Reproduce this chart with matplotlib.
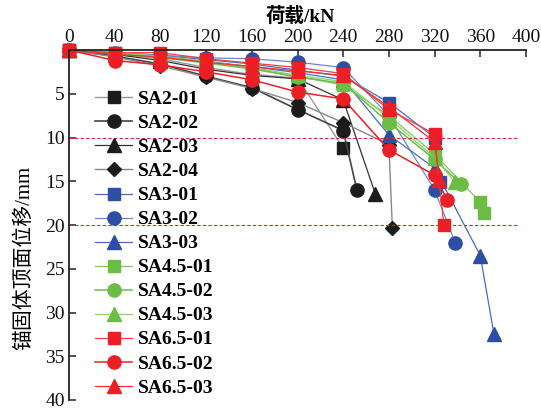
import matplotlib
matplotlib.use("Agg")
import matplotlib.pyplot as plt

# ---- data (load kN, displacement mm) ----
names = ["SA2-01", "SA2-02", "SA2-03", "SA2-04",
         "SA3-01", "SA3-02", "SA3-03",
         "SA4.5-01", "SA4.5-02", "SA4.5-03",
         "SA6.5-01", "SA6.5-02", "SA6.5-03"]

sa2_01_x = [0, 40, 80, 120, 160, 200, 240]
sa2_01_y = [0, 0.4, 1.0, 2.0, 2.8, 3.2, 11.2]
sa2_02_x = [0, 40, 80, 120, 160, 200, 240, 252]
sa2_02_y = [0, 0.7, 1.6, 3.0, 4.3, 6.8, 9.2, 16.0]
sa2_03_x = [0, 40, 80, 120, 160, 200, 240, 268]
sa2_03_y = [0, 0.5, 1.2, 2.2, 2.9, 3.3, 5.7, 16.4]
sa2_04_x = [0, 40, 80, 120, 160, 200, 240, 280, 283]
sa2_04_y = [0, 0.8, 1.8, 3.1, 4.4, 6.0, 8.3, 10.8, 20.3]

sa3_01_x = [0, 40, 80, 120, 160, 200, 240, 280, 320, 325]
sa3_01_y = [0, 0.3, 0.6, 1.1, 1.6, 2.3, 3.0, 6.0, 10.0, 15.1]
sa3_02_x = [0, 40, 80, 120, 160, 200, 240, 280, 320, 338]
sa3_02_y = [0, 0.3, 0.6, 0.9, 1.0, 1.4, 2.0, 7.5, 16.0, 22.0]
sa3_03_x = [0, 40, 80, 120, 160, 200, 240, 280, 320, 360, 372]
sa3_03_y = [0, 0.4, 0.8, 1.3, 1.9, 2.6, 3.4, 9.7, 13.5, 23.5, 32.5]

sa45_01_x = [0, 40, 80, 120, 160, 200, 240, 280, 320, 360, 363]
sa45_01_y = [0, 0.4, 0.9, 1.5, 2.2, 3.0, 4.0, 7.5, 11.9, 17.4, 18.6]
sa45_02_x = [0, 40, 80, 120, 160, 200, 240, 280, 320, 343]
sa45_02_y = [0, 0.4, 0.8, 1.4, 2.1, 3.1, 3.8, 8.3, 12.5, 15.3]
sa45_03_x = [0, 40, 80, 120, 160, 200, 240, 280, 320, 338]
sa45_03_y = [0, 0.3, 0.7, 1.3, 2.0, 2.9, 3.6, 7.8, 12.3, 15.1]

sa65_01_x = [0, 40, 80, 120, 160, 200, 240, 280, 320, 328]
sa65_01_y = [0, 0.3, 0.3, 1.0, 1.5, 2.0, 2.7, 6.8, 9.6, 20.0]
sa65_02_x = [0, 40, 80, 120, 160, 200, 240, 280, 320, 331]
sa65_02_y = [0, 1.2, 1.7, 2.5, 3.4, 4.8, 5.6, 11.4, 14.3, 17.1]
sa65_03_x = [0, 40, 80, 120, 160, 200, 240, 280, 320, 324]
sa65_03_y = [0, 0.5, 0.8, 1.4, 1.9, 2.4, 2.9, 6.5, 10.5, 14.8]

xs = [sa2_01_x, sa2_02_x, sa2_03_x, sa2_04_x, sa3_01_x, sa3_02_x, sa3_03_x,
      sa45_01_x, sa45_02_x, sa45_03_x, sa65_01_x, sa65_02_x, sa65_03_x]
ys = [sa2_01_y, sa2_02_y, sa2_03_y, sa2_04_y, sa3_01_y, sa3_02_y, sa3_03_y,
      sa45_01_y, sa45_02_y, sa45_03_y, sa65_01_y, sa65_02_y, sa65_03_y]

markers = ["s", "o", "^", "D", "s", "o", "^", "s", "o", "^", "s", "o", "^"]
msizes = [8.5, 9.5, 9.5, 7.5, 8.5, 9.5, 9.5, 8.5, 9.5, 9.5, 8.5, 9.5, 9.5]
mcolors = ["#1c1c1c"] * 4 + ["#2c4ea3"] * 3 + ["#6cbd45"] * 3 + ["#ec1f26"] * 3
lcolors = ["#9a9a9a", "#444444", "#333333", "#888888",
           "#4a6cc0", "#6a86cc", "#4a6cc0",
           "#7cc860", "#6cbd45", "#8cd070",
           "#f04040", "#ec1f26", "#f03030"]
lwidths = [1.0, 1.2, 0.9, 1.0, 0.9, 0.9, 0.9, 0.9, 1.1, 0.9, 0.9, 1.1, 0.9]

fig = plt.figure(figsize=(5.41, 4.09), dpi=100)
ax = fig.add_axes([69 / 541, 1 - 400 / 409, 457 / 541, 350 / 409])

for x, y, n, m, ms, mc, lc, lw in zip(xs, ys, names, markers, msizes, mcolors, lcolors, lwidths):
    ax.plot(x, y, marker=m, markersize=ms, color=lc, markerfacecolor=mc,
            markeredgecolor=mc, linewidth=lw, label=n, clip_on=False)

# reference lines
ax.hlines([10, 20], 0, 392, colors="#ec1f26", linestyles=(0, (3, 2)), linewidth=0.8)

ax.set_xlim(0, 400)
ax.set_ylim(40, 0)
ax.xaxis.tick_top()
ax.xaxis.set_label_position("top")
ax.set_xticks([0, 40, 80, 120, 160, 200, 240, 280, 320, 360, 400])
ax.set_yticks([5, 10, 15, 20, 25, 30, 35, 40])
for s in ["right", "bottom"]:
    ax.spines[s].set_visible(False)
for s in ["top", "left"]:
    ax.spines[s].set_linewidth(1.3)
    ax.spines[s].set_color("#222222")
ax.tick_params(direction="in", length=5, width=1.1, colors="#222222",
               labelsize=14, pad=3)
for lab in ax.get_xticklabels() + ax.get_yticklabels():
    lab.set_family("Liberation Serif")
    lab.set_color("#111111")

fig.text(300 / 541, 1 - 16 / 409, "荷载/kN", ha="center", va="center",
         fontsize=14, fontweight="bold", family=["Liberation Serif", "Noto Sans CJK SC"])
fig.text(24 / 541, 1 - 258 / 409, "锚固体顶面位移/mm", ha="center", va="center",
         rotation=90, fontsize=15, family=["Liberation Serif", "Noto Sans CJK SC"])

leg = ax.legend(loc="upper left", bbox_to_anchor=(0.057, 0.884), frameon=False,
                borderpad=0, borderaxespad=0, handlelength=1.9, handletextpad=0.3,
                labelspacing=0.33, prop={"family": "Liberation Serif", "weight": "bold", "size": 14})

fig.savefig("out.png", dpi=100)
